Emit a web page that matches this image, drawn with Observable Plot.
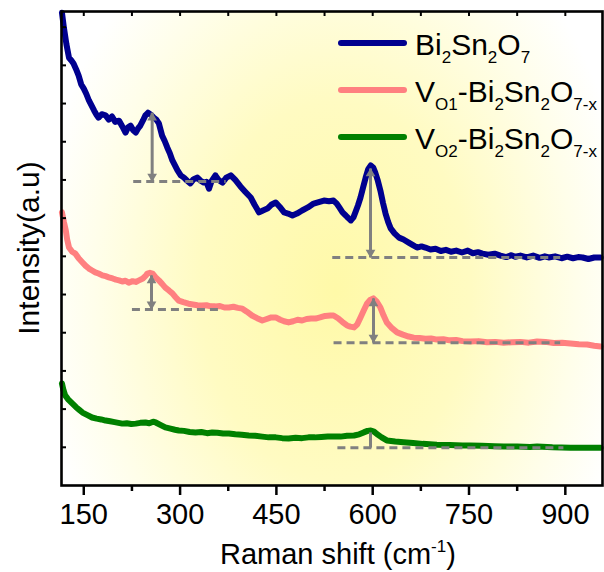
<!DOCTYPE html>
<html><head><meta charset="utf-8">
<script src="https://cdn.jsdelivr.net/npm/d3@7"></script>
<script src="https://cdn.jsdelivr.net/npm/@observablehq/plot@0.6"></script>
<style>
body{margin:0;background:#fff;font-family:"Liberation Sans",Arial,sans-serif;}
#wrap{position:relative;width:604px;height:572px;overflow:hidden;}
#wrap svg{position:absolute;left:0;top:0;}
.leg{position:absolute;left:338px;height:30px;font-size:30px;line-height:30px;white-space:nowrap;color:#000}
.leg .sw{position:absolute;left:0;top:10px;width:69px;height:6px;border-radius:3px}
.leg .tx{position:absolute;left:77px;top:0}
sub{font-size:17px;line-height:0;vertical-align:-8px}
sup{font-size:17px;line-height:0;vertical-align:12px}
#xt{position:absolute;left:220px;top:539px;font-size:29px;line-height:30px;white-space:nowrap}
#yt{position:absolute;left:29px;top:248px;font-size:30px;line-height:30px;white-space:nowrap;transform:translate(-50%,-50%) rotate(-90deg)}
</style></head>
<body><div id="wrap"></div>
<script>
// Raman shift tick values
const xMajor = [150, 300, 450, 600, 750, 900];
const xMinor = [225, 375, 525, 675, 825];
const yTicks = [1,2,3,4,5,6,7,8,9,10,11,12];

// Bi2Sn2O7 (blue)
const blueShift = [116,119,123,127,131,134,138,142,146,150,154,158,162,166,170,173,178,184,189,194,199,205,210,215,219,223,227,231,235,238,242,246,250,255,259,263,267,272,276,280,284,288,292,296,301,306,311,316,321,327,332,337,341,345,349,355,360,366,372,379,386,394,401,410,416,423,429,436,442,449,455,462,468,475,482,490,499,508,516,524,532,539,544,548,553,558,562,566,570,573,577,581,585,589,593,597,601,604,608,612,616,620,624,628,634,641,648,656,662,669,676,682,690,698,706,714,722,730,739,748,756,764,771,780,790,799,808,816,822,830,840,850,860,868,874,884,894,903,912,920,927,936,945,955];
const blueInt = [12.38,11.99,11.55,11.20,11.12,11.05,10.90,10.73,10.50,10.39,10.25,10.08,9.95,9.82,9.70,9.63,9.72,9.69,9.58,9.66,9.52,9.55,9.40,9.24,9.38,9.42,9.30,9.24,9.36,9.42,9.55,9.69,9.76,9.70,9.63,9.58,9.48,9.16,9.02,8.85,8.70,8.51,8.38,8.25,8.12,8.06,7.98,7.91,8.02,8.06,7.98,7.93,7.95,7.77,7.97,8.12,8.00,7.93,8.06,8.12,8.00,7.83,7.70,7.54,7.35,7.15,7.20,7.25,7.35,7.41,7.30,7.15,7.12,7.07,7.12,7.20,7.28,7.38,7.42,7.46,7.44,7.46,7.38,7.28,7.15,7.07,7.00,6.94,7.02,7.15,7.33,7.54,7.80,8.06,8.28,8.38,8.32,8.19,7.98,7.72,7.40,7.12,6.90,6.73,6.60,6.49,6.44,6.36,6.30,6.23,6.26,6.23,6.18,6.20,6.14,6.17,6.12,6.15,6.10,6.15,6.08,6.11,6.07,6.04,6.07,6.02,5.98,6.03,5.99,6.02,5.97,6.02,5.96,6.00,5.97,6.00,5.95,5.99,5.95,5.98,5.97,5.93,5.97,5.97];

// VO1-Bi2Sn2O7-x (pink)
const pinkShift = [116,119,122,124,127,132,137,142,148,153,158,163,168,173,179,184,189,195,200,205,210,215,220,226,231,236,242,247,249,253,257,262,267,272,277,283,288,293,298,305,313,320,327,334,341,348,355,362,369,376,383,390,397,404,412,420,428,435,442,449,456,462,469,476,483,490,497,504,511,518,526,534,539,546,553,560,565,571,576,581,586,591,596,601,606,612,617,622,630,638,647,656,664,673,682,691,700,710,720,730,740,752,765,778,791,804,817,830,843,856,869,882,895,908,921,934,945,955];
const pinkInt = [7.15,6.90,6.68,6.45,6.23,6.12,6.07,5.95,5.84,5.75,5.68,5.63,5.58,5.55,5.50,5.48,5.45,5.42,5.39,5.37,5.34,5.36,5.31,5.35,5.33,5.37,5.42,5.50,5.55,5.57,5.55,5.45,5.37,5.28,5.18,5.10,5.03,4.93,4.84,4.80,4.76,4.74,4.72,4.71,4.72,4.69,4.69,4.70,4.66,4.66,4.68,4.65,4.63,4.55,4.45,4.38,4.32,4.36,4.40,4.40,4.34,4.30,4.27,4.30,4.34,4.32,4.36,4.37,4.37,4.40,4.44,4.45,4.45,4.38,4.28,4.19,4.16,4.14,4.22,4.40,4.58,4.76,4.86,4.90,4.82,4.66,4.45,4.27,4.12,4.01,3.95,3.90,3.87,3.86,3.84,3.85,3.82,3.83,3.80,3.81,3.78,3.77,3.78,3.75,3.76,3.74,3.75,3.76,3.74,3.77,3.76,3.73,3.74,3.72,3.70,3.69,3.66,3.64];

// VO2-Bi2Sn2O7-x (green)
const greenShift = [116,118,121,126,132,138,143,148,155,163,170,177,184,191,198,204,210,217,224,231,238,246,252,258,262,270,277,285,292,298,306,315,324,333,342,350,358,367,376,386,396,407,417,428,438,449,459,469,480,490,500,510,520,530,540,550,560,571,579,586,592,597,602,607,614,622,635,648,663,678,700,720,740,752,770,790,804,825,845,856,880,908,930,955];
const greenInt = [2.67,2.52,2.36,2.25,2.15,2.05,1.98,1.91,1.85,1.78,1.75,1.73,1.70,1.68,1.66,1.64,1.62,1.63,1.61,1.62,1.64,1.65,1.63,1.67,1.65,1.58,1.52,1.49,1.46,1.44,1.43,1.40,1.39,1.40,1.37,1.39,1.38,1.36,1.36,1.34,1.33,1.31,1.30,1.28,1.26,1.26,1.24,1.23,1.25,1.24,1.26,1.26,1.27,1.28,1.28,1.28,1.30,1.31,1.34,1.39,1.43,1.44,1.41,1.34,1.26,1.18,1.15,1.13,1.11,1.09,1.07,1.06,1.05,1.05,1.04,1.03,1.02,1.02,1.01,1.02,1.00,0.99,0.99,0.99];

// dashed baselines
const baseFrom = [227, 537, 225, 539, 545];
const baseTo   = [371, 892, 363, 892, 897];
const baseLevel = [7.96, 5.97, 4.61, 3.74, 0.99];
// peak arrows
const arrowShift = [256.5, 596.6, 255.5, 601.2, 596.6];
const arrowPeak  = [9.76, 8.30, 5.50, 4.90, 1.39];
const arrowHeads = [true, true, true, true, false];

const seriesNames = ["Bi2Sn2O7", "VO1-Bi2Sn2O7-x", "VO2-Bi2Sn2O7-x"];
const seriesColors = ["#00008f", "#ff8080", "#008000"];

const toRows = (xs, ys) => xs.map((x, i) => ({x, y: ys[i]}));
const blue = toRows(blueShift, blueInt);
const pink = toRows(pinkShift, pinkInt);
const green = toRows(greenShift, greenInt);
const bases = baseFrom.map((x1, i) => ({x1, x2: baseTo[i], y: baseLevel[i]}));
const arrows = arrowShift.map((x, i) => ({x, y1: baseLevel[i], y2: arrowPeak[i], heads: arrowHeads[i]}));
const heads = arrows.filter(d => d.heads);
const gray = "#808080";
const lineOpts = {x: "x", y: "y", strokeWidth: 6, strokeLinejoin: "round", strokeLinecap: "round"};

const plot = Plot.plot({
  width: 604, height: 572,
  marginLeft: 61, marginRight: 2, marginTop: 11, marginBottom: 87,
  style: {fontFamily: "Liberation Sans, Arial, sans-serif", background: "transparent", overflow: "visible", color: "#000"},
  x: {domain: [115.3, 957.9]},
  y: {domain: [0, 12.41]},
  marks: [
    Plot.frame({fill: "url(#bgGrad)"}),
    Plot.line(blue, {...lineOpts, stroke: seriesColors[0]}),
    Plot.line(pink, {...lineOpts, stroke: seriesColors[1]}),
    Plot.line(green, {...lineOpts, stroke: seriesColors[2]}),
    Plot.link(bases, {x1: "x1", x2: "x2", y1: "y", y2: "y", stroke: gray, strokeWidth: 3, strokeDasharray: "8,5"}),
    Plot.link(arrows, {x1: "x", x2: "x", y1: "y1", y2: "y2", stroke: gray, strokeWidth: 3}),
    Plot.dot(heads, {x: "x", y: "y2", symbol: "triangle", r: 3.6, fill: gray, stroke: "none", dy: 5}),
    Plot.dot(heads, {x: "x", y: "y1", symbol: "triangle", r: 3.6, fill: gray, stroke: "none", dy: -5, rotate: 180}),
    Plot.axisX({anchor: "bottom", ticks: xMajor, tickSize: 10, tickPadding: 8, fontSize: 29, strokeWidth: 2.5, label: null, tickFormat: d => String(d)}),
    Plot.axisX({anchor: "bottom", ticks: xMinor, tickSize: 6, strokeWidth: 2.5, fill: "none", label: null}),
    Plot.axisX({anchor: "top", ticks: xMajor.concat(xMinor), tickSize: -4, strokeWidth: 2, fill: "none", label: null}),
    Plot.axisY({anchor: "left", ticks: yTicks, tickSize: -5, strokeWidth: 2, fill: "none", label: null}),
    Plot.frame({stroke: "#000", strokeWidth: 2.6})
  ]
});

d3.select(plot).insert("defs", ":first-child").html(
  `<radialGradient id="bgGrad" gradientUnits="userSpaceOnUse" cx="335" cy="290" r="300"
      gradientTransform="translate(335 290) scale(1 1.4) translate(-335 -290)">
     <stop offset="0" stop-color="#fff9a8"/>
     <stop offset="0.45" stop-color="#fffbc2"/>
     <stop offset="0.8" stop-color="#fffeea"/>
     <stop offset="1" stop-color="#ffffff"/>
   </radialGradient>`);

const wrap = document.getElementById("wrap");
wrap.appendChild(plot);

const legendHTML = [
  "Bi<sub>2</sub>Sn<sub>2</sub>O<sub>7</sub>",
  "V<sub>O1</sub>-Bi<sub>2</sub>Sn<sub>2</sub>O<sub>7-x</sub>",
  "V<sub>O2</sub>-Bi<sub>2</sub>Sn<sub>2</sub>O<sub>7-x</sub>"
];
const legTops = [30, 77, 124];
seriesNames.forEach((name, i) => {
  const row = document.createElement("div");
  row.className = "leg";
  row.style.top = legTops[i] + "px";
  row.setAttribute("aria-label", name);
  row.innerHTML = `<span class="sw" style="background:${seriesColors[i]}"></span><span class="tx">${legendHTML[i]}</span>`;
  wrap.appendChild(row);
});

const xt = document.createElement("div");
xt.id = "xt";
xt.innerHTML = "Raman shift (cm<sup>-1</sup>)";
wrap.appendChild(xt);
const yt = document.createElement("div");
yt.id = "yt";
yt.textContent = "Intensity(a.u)";
wrap.appendChild(yt);
</script>
</body></html>
